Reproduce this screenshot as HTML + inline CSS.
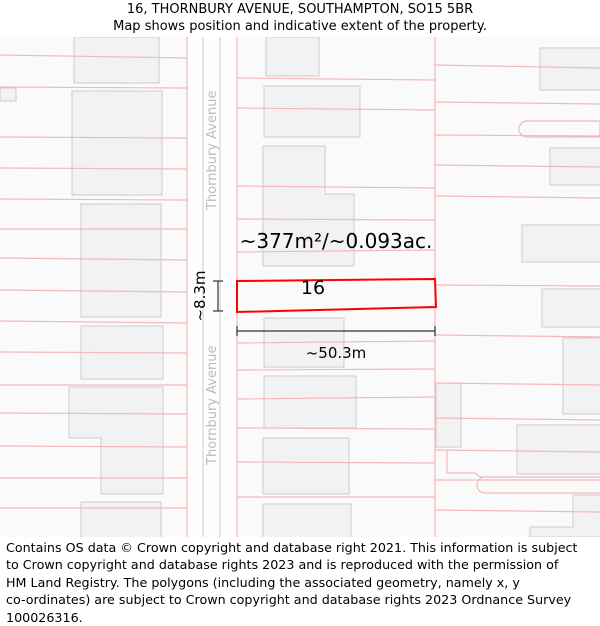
<!DOCTYPE html>
<html><head><style>
body{margin:0;width:600px;height:625px;background:#fff;font-family:"DejaVu Sans","Liberation Sans",sans-serif;overflow:hidden;position:relative}
.t{position:absolute;left:0;width:600px;text-align:center;font-size:13px;color:#000}
.f{position:absolute;left:6px;top:539px;width:600px;font-size:12.7px;line-height:17.4px;color:#000;white-space:nowrap}
</style></head><body>
<div class="t" style="top:2px">16, THORNBURY AVENUE, SOUTHAMPTON, SO15 5BR</div>
<div class="t" style="top:19px">Map shows position and indicative extent of the property.</div>
<svg style="position:absolute;left:0;top:37px" width="600" height="500" viewBox="0 37 600 500">
<rect x="0" y="37" width="600" height="500" fill="#fafafa"/>
<rect x="188" y="37" width="48" height="500" fill="#fefefe"/>
<line x1="203" y1="37" x2="203" y2="537" stroke="#ccc"/>
<line x1="220" y1="37" x2="220" y2="537" stroke="#ccc"/>
<g fill="#f2f2f2" stroke="#ccc" stroke-width="1">
<rect x="74" y="37" width="85" height="46"/><rect x="72" y="91" width="90" height="104"/>
<rect x="81" y="204" width="80" height="113"/><rect x="81" y="326" width="82" height="53"/>
<path d="M69 387H163V494H101V438H69Z"/><rect x="81" y="502" width="80" height="40"/>
<rect x="0" y="88" width="16" height="13"/>
<rect x="266" y="37" width="53" height="39"/><rect x="264" y="86" width="96" height="51"/>
<path d="M263 146H325V194H354V266H263Z"/><rect x="264" y="318" width="80" height="49"/>
<rect x="264" y="376" width="92" height="52"/><rect x="263" y="438" width="86" height="56"/>
<rect x="263" y="504" width="88" height="40"/>
<rect x="540" y="48" width="65" height="42"/><rect x="550" y="148" width="55" height="37"/>
<rect x="522" y="225" width="80" height="37"/><rect x="542" y="289" width="60" height="38"/>
<rect x="563" y="338" width="40" height="76"/><rect x="517" y="425" width="85" height="49"/>
<rect x="436" y="383" width="25" height="64"/><path d="M530 537V527H573V495H605V537Z"/>
</g>
<g stroke="#f6b8b8" stroke-width="1.2" fill="none">
<line x1="187" y1="37" x2="187" y2="537"/><line x1="237" y1="37" x2="237" y2="537"/>
<line x1="435" y1="37" x2="435" y2="537"/>
<path d="M0 55L187 58M0 87L187 88M0 137L187 138M0 168L187 169M0 199L187 200M0 229L187 229M0 258L187 260M0 290L187 292M0 321L187 323M0 352L187 353M0 385L187 385M0 413L187 414M0 446L187 447M0 478L187 478M0 508L187 508"/>
<path d="M237 78L435 80M237 108L435 110M237 186L435 188M237 219L435 220M237 252L435 250M237 343L435 341M237 370L435 369M237 399L435 397M237 428L435 429M237 462L435 463M237 497L435 497"/>
<path d="M435 65L600 68M435 102L600 104M435 135L600 136M435 165L600 167M435 196L600 198M435 285L600 286M435 335L600 337M435 383L600 385M435 418L600 420M435 450L600 452M435 480L600 480M435 510L600 512"/>
<path d="M527 121H600V137H527A8 8 0 0 1 527 121Z"/>
<path d="M447 451V473H475L480 477H600M485 477A8 8 0 0 0 485 493H600"/>
</g>
<text transform="translate(216,210) rotate(-90)" font-size="13" fill="#bbb">Thornbury Avenue</text>
<text transform="translate(216,465) rotate(-90)" font-size="13" fill="#bbb">Thornbury Avenue</text>
<path d="M237 281L435 279L436 307L237 312Z" fill="none" stroke="#f00" stroke-width="2"/>
<text x="313" y="294" font-size="19" text-anchor="middle" fill="#000">16</text>
<text x="336" y="248" font-size="20" text-anchor="middle" fill="#000">~377m²/~0.093ac.</text>
<g stroke="#333" stroke-width="1.2"><line x1="237" y1="331" x2="435" y2="331"/><line x1="237" y1="326" x2="237" y2="336"/><line x1="435" y1="326" x2="435" y2="336"/>
<line x1="218" y1="281" x2="218" y2="311"/><line x1="213" y1="281" x2="223" y2="281"/><line x1="213" y1="311" x2="223" y2="311"/></g>
<text x="336" y="358" font-size="15" text-anchor="middle" fill="#000">~50.3m</text>
<text transform="translate(205,296) rotate(-90)" font-size="15" text-anchor="middle" fill="#000">~8.3m</text>
</svg>
<div class="f">Contains OS data © Crown copyright and database right 2021. This information is subject<br>to Crown copyright and database rights 2023 and is reproduced with the permission of<br>HM Land Registry. The polygons (including the associated geometry, namely x, y<br>co-ordinates) are subject to Crown copyright and database rights 2023 Ordnance Survey<br>100026316.</div>
</body></html>
